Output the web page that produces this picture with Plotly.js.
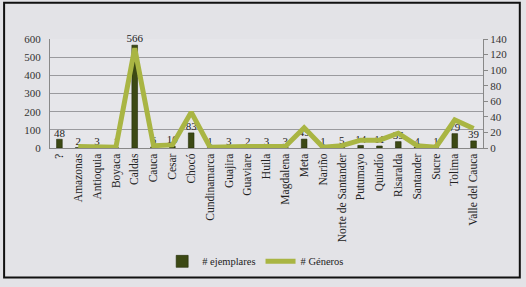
<!DOCTYPE html>
<html>
<head>
<meta charset="utf-8">
<script src="https://cdn.plot.ly/plotly-3.0.1.min.js"></script>
<style>html,body{margin:0;padding:0;background:#e3e3e7;}</style>
</head>
<body>
<div id="chart" style="width:526px;height:287px;"></div>
<script>
var categories = ["?", "Amazonas", "Antioquia", "Boyaca", "Caldas", "Cauca", "Cesar", "Chocó", "Cundinamarca", "Guajira", "Guaviare", "Huila", "Magdalena", "Meta", "Nariño", "Norte de Santander", "Putumayo", "Quindío", "Risaralda", "Santander", "Sucre", "Tolima", "Valle del Cauca"];
var ejemplares = [48, 2, 3, 1, 566, 6, 10, 83, 1, 3, 2, 3, 3, 49, 1, 5, 14, 11, 35, 4, 1, 79, 39];
var generos = [null, 2, 2, 1, 128, 3, 4, 46, 1, 2, 2, 2, 2, 26, 1, 3, 10, 10, 19, 3, 1, 36, 25];
var leftTicks = [0, 100, 200, 300, 400, 500, 600];
var rightTicks = [0, 20, 40, 60, 80, 100, 120, 140];

var serif = "Liberation Serif, Times New Roman, serif";

var traces = [
  {
    type: "bar", name: "# ejemplares", x: categories, y: ejemplares,
    marker: {color: "#3c4914", line: {color: "#232d08", width: 0.6}},
    width: 0.3, yaxis: "y"
  },
  {
    type: "scatter", mode: "lines", name: "# Géneros", x: categories, y: generos,
    line: {color: "#a9b543", width: 5}, yaxis: "y2", connectgaps: false
  },
  {
    type: "scatter", mode: "text", showlegend: false, x: categories, y: ejemplares,
    text: ejemplares.map(String), textposition: "top center", cliponaxis: false,
    textfont: {family: serif, size: 11, color: "#222"}, yaxis: "y", hoverinfo: "skip"
  }
];

var layout = {
  width: 526, height: 287,
  margin: {l: 50, r: 43, t: 39, b: 137},
  paper_bgcolor: "#e3e3e7", plot_bgcolor: "#e6e6ea",
  font: {family: serif, size: 11, color: "#333"},
  showlegend: true,
  legend: {orientation: "h", x: 0.475, xanchor: "center", y: -1.04, yanchor: "middle",
           font: {family: serif, size: 10.5, color: "#222"}, bgcolor: "rgba(0,0,0,0)"},
  bargap: 0.7,
  xaxis: {
    type: "category", range: [-0.5, categories.length - 0.5], tickangle: -90,
    showline: true, linecolor: "#888", linewidth: 1,
    ticks: "", showgrid: false, tickfont: {family: serif, size: 11.5, color: "#222"},
    fixedrange: true
  },
  yaxis: {
    range: [0, 600], tickvals: leftTicks, showgrid: true, gridcolor: "#9a9a9e", gridwidth: 1,
    showline: true, linecolor: "#888", ticks: "", ticklabelstandoff: 6, zeroline: false,
    tickfont: {family: serif, size: 11, color: "#333"}
  },
  yaxis2: {
    range: [0, 140], tickvals: rightTicks, overlaying: "y", side: "right", showgrid: false,
    showline: true, linecolor: "#888", ticks: "outside", ticklen: 4, tickcolor: "#888",
    zeroline: false, tickfont: {family: serif, size: 11, color: "#333"}
  },
  shapes: [
    {type: "rect", xref: "paper", yref: "paper", x0: -0.106, x1: 1.085, y0: -1.189, y1: 1.333,
     line: {color: "#111", width: 2}, layer: "below"}
  ]
};

Plotly.newPlot("chart", traces, layout, {displayModeBar: false, staticPlot: true});
</script>
</body>
</html>
